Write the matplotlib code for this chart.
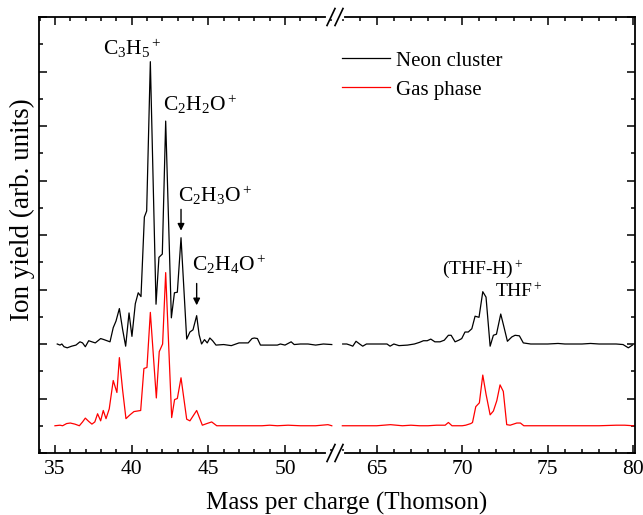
import matplotlib
matplotlib.use("Agg")
import matplotlib.pyplot as plt
from matplotlib.lines import Line2D
from matplotlib.ticker import MultipleLocator, NullFormatter

# ---------------- data ----------------
neon_left_x = [35.15, 35.33, 35.45, 35.59, 35.80, 36.09, 36.37, 36.63, 36.80, 36.98,
               37.20, 37.41, 37.63, 37.98, 38.20, 38.59, 38.80, 38.98, 39.20, 39.41,
               39.61, 39.83, 40.02, 40.24, 40.43, 40.61, 40.83, 40.98, 41.22, 41.59,
               41.78, 42.00, 42.22, 42.59, 42.79, 42.98, 43.22, 43.59, 43.80, 44.00,
               44.24, 44.40, 44.56, 44.75, 44.93, 45.10, 45.28, 45.50, 46.00, 46.50,
               47.00, 47.60, 47.85, 48.00, 48.20, 48.40, 49.00, 49.50, 49.70, 50.00,
               50.40, 50.60, 51.00, 51.50, 52.00, 52.50, 53.05]
neon_left_y = [2.00, 1.98, 2.00, 1.95, 1.93, 1.96, 1.98, 2.04, 2.02, 1.95,
               2.06, 2.04, 2.02, 2.10, 2.08, 2.04, 2.30, 2.42, 2.65, 2.27,
               1.96, 2.57, 2.14, 2.74, 2.94, 2.87, 4.33, 4.44, 7.18, 2.73,
               3.59, 3.65, 6.09, 2.48, 2.94, 2.95, 3.95, 2.09, 2.22, 2.26,
               2.52, 2.17, 2.00, 2.08, 2.02, 2.11, 2.06, 1.98, 1.99, 1.97,
               2.02, 2.02, 2.10, 2.11, 2.10, 1.98, 1.98, 1.98, 2.00, 1.98,
               2.04, 1.99, 2.00, 2.00, 1.98, 2.00, 1.99]

gas_left_x = [35.00, 35.33, 35.50, 35.76, 36.00, 36.30, 36.59, 36.80, 36.98, 37.20,
              37.41, 37.60, 37.78, 37.98, 38.15, 38.33, 38.54, 38.80, 39.04, 39.20,
              39.41, 39.63, 39.89, 40.15, 40.59, 40.80, 41.00, 41.22, 41.61, 41.80,
              42.02, 42.22, 42.61, 42.80, 42.98, 43.22, 43.59, 43.80, 44.24, 44.61,
              44.90, 45.22, 45.55, 46.50, 47.50, 48.50, 49.00, 49.50, 50.20, 51.00,
              52.00, 52.80, 53.05]
gas_left_y = [0.50, 0.51, 0.50, 0.54, 0.55, 0.53, 0.50, 0.57, 0.64, 0.58,
              0.53, 0.57, 0.72, 0.59, 0.78, 0.63, 0.81, 1.33, 1.11, 1.75,
              1.16, 0.63, 0.70, 0.76, 0.78, 1.55, 1.57, 2.58, 1.01, 1.86,
              2.00, 3.31, 0.65, 0.98, 1.00, 1.38, 0.62, 0.59, 0.78, 0.51,
              0.54, 0.57, 0.50, 0.50, 0.50, 0.50, 0.51, 0.50, 0.51, 0.50,
              0.50, 0.52, 0.50]

neon_right_x = [63.01, 63.25, 63.44, 63.60, 63.79, 64.00, 64.18, 64.40, 64.80, 65.20,
                65.60, 65.78, 66.00, 66.30, 66.80, 67.20, 67.50, 67.73, 67.95, 68.16,
                68.40, 68.70, 68.95, 69.19, 69.35, 69.58, 69.80, 69.97, 70.16, 70.35,
                70.56, 70.75, 70.98, 71.20, 71.39, 71.63, 71.82, 72.00, 72.25, 72.44,
                72.64, 72.90, 73.09, 73.34, 73.57, 74.00, 74.50, 75.00, 75.60, 76.00,
                76.50, 77.00, 77.50, 78.00, 78.50, 79.00, 79.40, 79.71, 79.95]
neon_right_y = [2.00, 2.00, 1.98, 1.96, 2.05, 2.00, 1.96, 2.00, 2.00, 2.00,
                2.00, 1.96, 2.00, 1.97, 1.98, 2.00, 2.03, 2.06, 2.06, 2.09,
                2.04, 2.04, 2.07, 2.16, 2.16, 2.04, 2.07, 2.10, 2.22, 2.22,
                2.28, 2.51, 2.49, 2.96, 2.86, 1.96, 2.16, 2.18, 2.55, 2.31,
                2.05, 2.13, 2.16, 2.15, 2.02, 2.00, 2.00, 2.00, 2.01, 2.00,
                2.00, 2.00, 2.01, 2.00, 2.00, 2.00, 1.99, 1.93, 1.98]

gas_right_x = [62.99, 63.50, 64.00, 64.50, 65.00, 65.80, 66.50, 67.00, 67.50, 68.00,
               68.50, 69.00, 69.19, 69.40, 70.00, 70.20, 70.50, 70.60, 70.79, 71.00,
               71.20, 71.39, 71.63, 71.82, 72.02, 72.21, 72.40, 72.60, 72.80, 73.19,
               73.40, 73.60, 74.00, 75.00, 76.00, 77.00, 78.00, 79.00, 79.50, 80.00]
gas_right_y = [0.50, 0.50, 0.50, 0.50, 0.50, 0.52, 0.50, 0.51, 0.50, 0.50,
               0.51, 0.51, 0.56, 0.50, 0.50, 0.51, 0.54, 0.56, 0.85, 0.92,
               1.43, 1.08, 0.70, 0.77, 0.96, 1.25, 1.13, 0.52, 0.51, 0.55,
               0.55, 0.50, 0.50, 0.50, 0.50, 0.50, 0.50, 0.51, 0.51, 0.50]

series_labels = ["Neon cluster", "Gas phase"]
x_label = "Mass per charge (Thomson)"
y_label = "Ion yield (arb. units)"

# ---------------- style ----------------
plt.rcParams["font.family"] = ["Liberation Serif", "DejaVu Serif"]
plt.rcParams["mathtext.fontset"] = "custom"
plt.rcParams["mathtext.rm"] = "Liberation Serif"
plt.rcParams["mathtext.it"] = "Liberation Serif:italic"
plt.rcParams["mathtext.default"] = "regular"

W, H = 643, 515
fig = plt.figure(figsize=(W / 100, H / 100), dpi=100)

def fx(px):
    return px / W

def fy(py):
    return 1 - py / H

ax_top, ax_bot = 17, 453
axL = fig.add_axes([fx(39), fy(ax_bot), fx(335) - fx(39), fy(ax_top) - fy(ax_bot)])
axR = fig.add_axes([fx(335), fy(ax_bot), fx(635) - fx(335), fy(ax_top) - fy(ax_bot)])

lw = 0.9
axL.plot(neon_left_x, neon_left_y, color="black", lw=lw, label=series_labels[0])
axL.plot(gas_left_x, gas_left_y, color="red", lw=lw, label=series_labels[1])
axR.plot(neon_right_x, neon_right_y, color="black", lw=lw, label=series_labels[0])
axR.plot(gas_right_x, gas_right_y, color="red", lw=lw, label=series_labels[1])

axL.set_xlim(33.96, 53.26)
axR.set_xlim(62.56, 80.1)
for ax in (axL, axR):
    ax.set_ylim(0, 8)
    ax.yaxis.set_major_locator(MultipleLocator(1))
    ax.yaxis.set_minor_locator(MultipleLocator(0.5))
    ax.yaxis.set_major_formatter(NullFormatter())
    ax.xaxis.set_major_locator(MultipleLocator(5))
    ax.xaxis.set_minor_locator(MultipleLocator(1))
    for s in ax.spines.values():
        s.set_linewidth(1.3)
    ax.tick_params(which="both", direction="in", top=True, width=1.1,
                   labelsize=15.5, pad=5)
    ax.tick_params(which="major", length=6)
    ax.tick_params(which="minor", length=3.2)

axL.spines["right"].set_visible(False)
axL.tick_params(which="both", left=True, right=False)
axR.spines["left"].set_visible(False)
axR.tick_params(which="both", left=False, right=True, labelleft=False)

# broken-axis marks
for py in (ax_top, ax_bot):
    fig.add_artist(Line2D([fx(328), fx(342)], [fy(py), fy(py)], color="white",
                          lw=3, transform=fig.transFigure, zorder=10))
    for cx in (331, 339):
        fig.add_artist(Line2D([fx(cx - 4), fx(cx + 4)], [fy(py + 8.5), fy(py - 8.5)],
                              color="black", lw=1.2, transform=fig.transFigure,
                              zorder=11))

# annotations
afs = 15.5
tfs = 14
axL.text(38.11, 7.31, r"$\mathregular{C_3H_5{}^+}$", fontsize=afs, ha="left", va="baseline")
axL.text(42.06, 6.28, r"$\mathregular{C_2H_2O^+}$", fontsize=afs, ha="left", va="baseline")
axL.text(43.04, 4.60, r"$\mathregular{C_2H_3O^+}$", fontsize=afs, ha="left", va="baseline")
axL.text(43.92, 3.34, r"$\mathregular{C_2H_4O^+}$", fontsize=afs, ha="left", va="baseline")
axL.annotate("", xy=(43.22, 4.08), xytext=(43.22, 4.47),
             arrowprops=dict(arrowstyle="-|>", color="black", lw=1.0,
                             mutation_scale=10, shrinkA=0, shrinkB=0))
axL.annotate("", xy=(44.24, 2.71), xytext=(44.24, 3.11),
             arrowprops=dict(arrowstyle="-|>", color="black", lw=1.0,
                             mutation_scale=10, shrinkA=0, shrinkB=0))
axR.text(68.80, 3.29, r"$\mathregular{(THF\text{-}H)^+}$", fontsize=tfs, ha="left", va="baseline")
axR.text(71.92, 2.86, r"$\mathregular{THF^+}$", fontsize=tfs, ha="left", va="baseline")

# legend
fs_leg = 15
axR.legend(loc="upper left", bbox_to_anchor=(fx(342), fy(51)),
           bbox_transform=fig.transFigure, frameon=False, fontsize=fs_leg,
           handlelength=2.3, handletextpad=0.3, labelspacing=0.45,
           borderpad=0, borderaxespad=0)

# axis labels
fig.text(fx(347), fy(510), x_label, fontsize=18, ha="center", va="baseline")
fig.text(fx(22), fy(210), y_label, fontsize=19.5, ha="center", va="center",
         rotation=90)

fig.savefig("out.png", dpi=100)
